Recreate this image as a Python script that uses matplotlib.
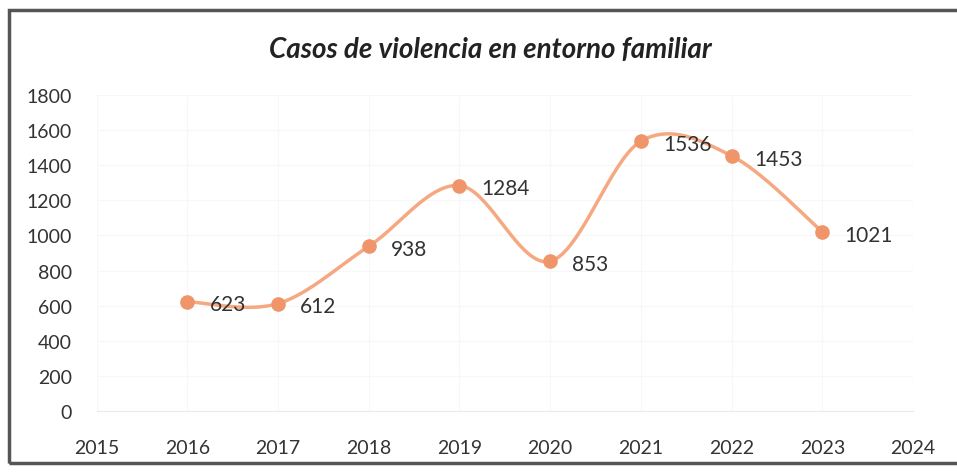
import numpy as np
import matplotlib.pyplot as plt
from matplotlib.patches import Rectangle

years = [2016, 2017, 2018, 2019, 2020, 2021, 2022, 2023]
cases = [623, 612, 938, 1284, 853, 1536, 1453, 1021]
title = "Casos de violencia en entorno familiar"

plt.rcParams['font.family'] = ['Lato', 'DejaVu Sans']


def smooth(x, y, n=40):
    # Catmull-Rom style curve through the points, similar to Excel's smoothed line
    x = np.asarray(x, float)
    y = np.asarray(y, float)
    px = np.concatenate([[x[0]], x, [x[-1]]])
    py = np.concatenate([[y[0]], y, [y[-1]]])
    xs, ys = [], []
    t = np.linspace(0, 1, n)
    for i in range(1, len(px) - 2):
        p0, p1, p2, p3 = (np.array([px[j], py[j]]) for j in range(i - 1, i + 3))
        c1 = p1 + (p2 - p0) / 6
        c2 = p2 - (p3 - p1) / 6
        b = ((1 - t) ** 3)[:, None] * p1 + (3 * (1 - t) ** 2 * t)[:, None] * c1 \
            + (3 * (1 - t) * t ** 2)[:, None] * c2 + (t ** 3)[:, None] * p2
        xs.extend(b[:, 0])
        ys.extend(b[:, 1])
    return xs, ys


fig = plt.figure(figsize=(9.57, 4.77), dpi=100)
ax = fig.add_axes([0.101, 0.136, 0.853, 0.663])

sx, sy = smooth(years, cases)
ax.plot(sx, sy, color='#F6A880', lw=2.5, zorder=2)
ax.plot(years, cases, 'o', color='#F0956A', ms=9.5, zorder=3)

for x, y in zip(years, cases):
    ax.annotate(str(y), (x, y), xytext=(16, -2), textcoords='offset points',
                fontsize=15, color='#333333', va='center', ha='left')

ax.set_xlim(2015, 2024)
ax.set_ylim(0, 1800)
ax.set_xticks(range(2015, 2025))
ax.set_yticks(range(0, 1801, 200))
ax.tick_params(axis='both', length=0, labelsize=14, colors='#333333')
ax.tick_params(axis='x', pad=20)
ax.tick_params(axis='y', pad=18)
ax.grid(True, color='#F7F7F7', lw=0.8)
for s in ['top', 'right', 'left']:
    ax.spines[s].set_visible(False)
ax.spines['bottom'].set_color('#EAEAEA')

fig.text(0.512, 0.895, title, ha='center', va='center', fontsize=20,
         fontweight='bold', style='italic', color='#222222')

fig.patches.append(Rectangle((0.009, 0.028), 0.995, 0.948, transform=fig.transFigure,
                             fill=False, edgecolor='#555555', lw=2.5))

fig.savefig('out.png', dpi=100)
